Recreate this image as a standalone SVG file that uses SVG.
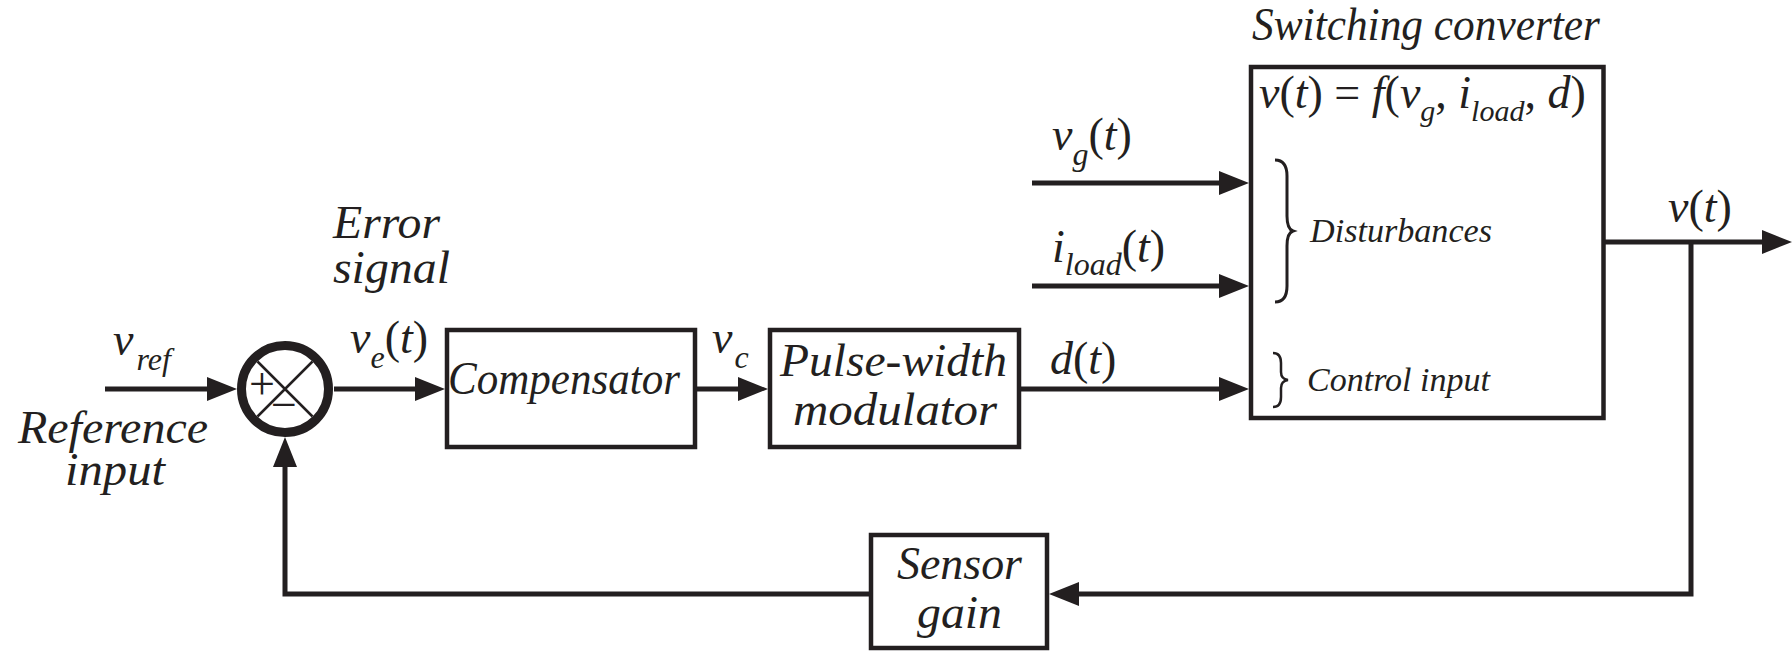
<svg xmlns="http://www.w3.org/2000/svg" width="1792" height="652" viewBox="0 0 1792 652">
<style>
.ln{fill:none;stroke:#231f20;stroke-width:5}
.bx{fill:#fff;stroke:#231f20;stroke-width:4.5}
.t{font-family:'Liberation Serif','Times New Roman','DejaVu Serif',serif;font-style:italic;fill:#231f20;font-size:46px}
.r{font-style:normal}
.sub{font-size:32px}
.sm{font-size:33px}
</style>
<defs>
<marker id="ah" markerUnits="userSpaceOnUse" markerWidth="30" markerHeight="24" refX="20" refY="12" orient="auto">
<path d="M0,0 L30,12 L0,24 z" fill="#231f20"/>
</marker>
</defs>
<rect width="1792" height="652" fill="#fff"/>
<g id="connectors">
<path class="ln" d="M105,389 H227" marker-end="url(#ah)"/>
<path class="ln" d="M334,389 H435" marker-end="url(#ah)"/>
<path class="ln" d="M697,389 H758" marker-end="url(#ah)"/>
<path class="ln" d="M1021,389 H1239" marker-end="url(#ah)"/>
<path class="ln" d="M1032,183 H1239" marker-end="url(#ah)"/>
<path class="ln" d="M1032,286 H1239" marker-end="url(#ah)"/>
<path class="ln" d="M1605,242 H1782" marker-end="url(#ah)"/>
<path class="ln" d="M1691,242 V594 H1059" marker-end="url(#ah)"/>
<path class="ln" d="M871,594 H285 V447" marker-end="url(#ah)"/>
</g>
<g id="sum">
<circle cx="285" cy="389" r="43.5" fill="#fff" stroke="#231f20" stroke-width="9"/>
<path d="M257.5,361.5 L312.5,416.5 M312.5,361.5 L257.5,416.5" stroke="#231f20" stroke-width="2.5"/>
<text class="t r" x="262" y="399" font-size="34" text-anchor="middle">+</text>
<text class="t r" x="284" y="420" font-size="36" text-anchor="middle">−</text>
</g>
<g id="compensator">
<rect class="bx" x="447" y="330" width="248" height="117"/>
<text class="t" x="448" y="394" font-size="43" textLength="232" lengthAdjust="spacingAndGlyphs">Compensator</text>
</g>
<g id="pwm">
<rect class="bx" x="770" y="330" width="249" height="117"/>
<text class="t" x="780" y="376" textLength="227" lengthAdjust="spacingAndGlyphs">Pulse-width</text>
<text class="t" x="793" y="425" textLength="204" lengthAdjust="spacingAndGlyphs">modulator</text>
</g>
<g id="converter">
<rect class="bx" x="1251" y="67" width="352.5" height="351"/>
<text class="t" x="1252" y="40" font-size="40" textLength="348" lengthAdjust="spacingAndGlyphs">Switching converter</text>
<text class="t" x="1259" y="108" font-size="44">v<tspan class="r">(</tspan>t<tspan class="r">) = </tspan>f<tspan class="r">(</tspan>v<tspan font-size="30" dy="13">g</tspan><tspan class="r" dy="-13">, </tspan>i<tspan font-size="30" dy="13">load</tspan><tspan class="r" dy="-13">, </tspan>d<tspan class="r">)</tspan></text>
<path d="M1275,160 Q1287,160 1287,176 L1287,216 Q1287,229 1293,231 Q1287,233 1287,246 L1287,286 Q1287,302 1275,302" fill="none" stroke="#231f20" stroke-width="3"/>
<text class="t sm" x="1310" y="242" textLength="182" lengthAdjust="spacingAndGlyphs">Disturbances</text>
<path d="M1273,353 Q1281,353 1281,363 L1281,372 Q1281,379 1288,380 Q1281,381 1281,388 L1281,397 Q1281,407 1273,407" fill="none" stroke="#231f20" stroke-width="2.5"/>
<text class="t sm" x="1307" y="391" textLength="183" lengthAdjust="spacingAndGlyphs">Control input</text>
</g>
<g id="sensor">
<rect class="bx" x="871" y="535" width="176" height="113"/>
<text class="t" x="897" y="579" textLength="125" lengthAdjust="spacingAndGlyphs">Sensor</text>
<text class="t" x="917" y="628" textLength="85" lengthAdjust="spacingAndGlyphs">gain</text>
</g>
<g id="labels">
<text class="t" x="113" y="355">v<tspan class="sub" dx="3" dy="15">ref</tspan></text>
<text class="t" x="18" y="443" textLength="190" lengthAdjust="spacingAndGlyphs">Reference</text>
<text class="t" x="65" y="485" textLength="100" lengthAdjust="spacingAndGlyphs">input</text>
<text class="t" x="333" y="238" textLength="107" lengthAdjust="spacingAndGlyphs">Error</text>
<text class="t" x="333" y="283" textLength="117" lengthAdjust="spacingAndGlyphs">signal</text>
<text class="t" x="350" y="353">v<tspan class="sub" dy="15">e</tspan><tspan class="r" dy="-15">(</tspan>t<tspan class="r">)</tspan></text>
<text class="t" x="712" y="353">v<tspan class="sub" dx="2" dy="15">c</tspan></text>
<text class="t" x="1050" y="374">d<tspan class="r">(</tspan>t<tspan class="r">)</tspan></text>
<text class="t" x="1052" y="150">v<tspan class="sub" dy="15">g</tspan><tspan class="r" dy="-15">(</tspan>t<tspan class="r">)</tspan></text>
<text class="t" x="1052" y="262">i<tspan class="sub" dy="13">load</tspan><tspan class="r" dy="-13">(</tspan>t<tspan class="r">)</tspan></text>
<text class="t" x="1668" y="222">v<tspan class="r">(</tspan>t<tspan class="r">)</tspan></text>
</g>
</svg>
